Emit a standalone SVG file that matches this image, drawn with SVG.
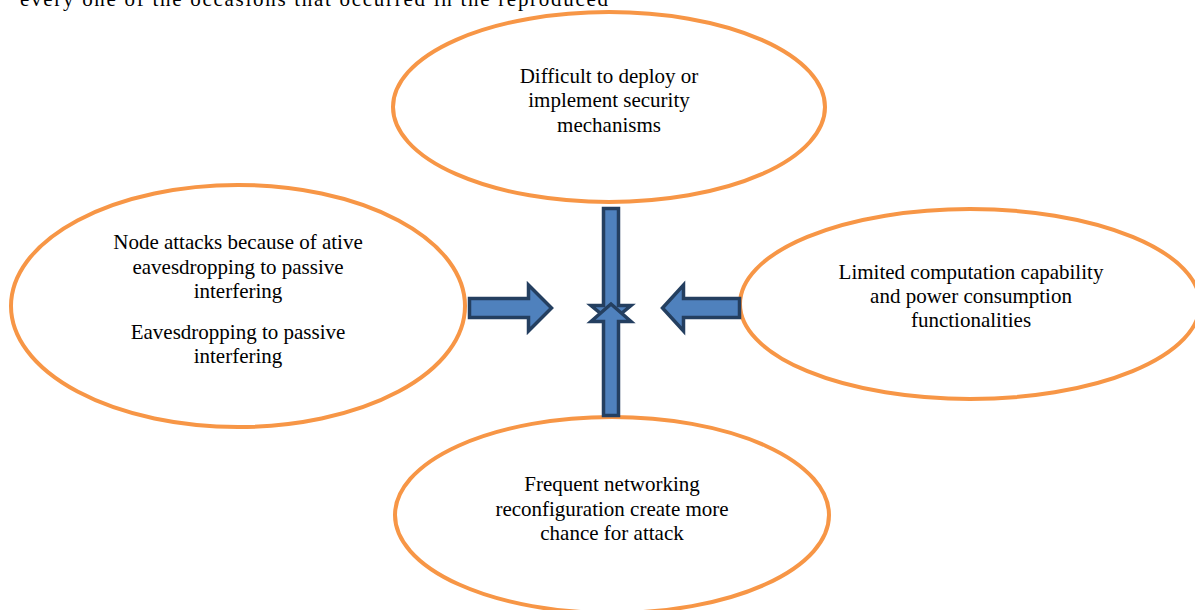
<svg xmlns="http://www.w3.org/2000/svg" width="1195" height="610" viewBox="0 0 1195 610">
<style>
.node ellipse{fill:#ffffff;stroke:#F79646;stroke-width:4}
text{font-family:'Liberation Serif',serif;font-size:21px;fill:#000}
.node text{text-anchor:middle}
.arrow{fill:#4F81BD;stroke:#243F60;stroke-width:3.5;stroke-linejoin:miter}
</style>
<rect width="1195" height="610" fill="#ffffff"/>
<text class="caption" x="20" y="6" textLength="588" lengthAdjust="spacing">every one of the occasions that occurred in the reproduced</text>
<g id="node-top" class="node">
<ellipse cx="609" cy="107" rx="216" ry="95"/>
<text x="609" y="83">Difficult to deploy or</text>
<text x="609" y="107">implement security</text>
<text x="609" y="132">mechanisms</text>
</g>
<g id="node-left" class="node">
<ellipse cx="238" cy="306" rx="227" ry="121"/>
<text x="238" y="249">Node attacks because of ative</text>
<text x="238" y="274">eavesdropping to passive</text>
<text x="238" y="298">interfering</text>
<text x="238" y="339">Eavesdropping to passive</text>
<text x="238" y="363">interfering</text>
</g>
<g id="node-right" class="node">
<ellipse cx="970" cy="304" rx="230" ry="95"/>
<text x="971" y="279">Limited computation capability</text>
<text x="971" y="303">and power consumption</text>
<text x="971" y="327">functionalities</text>
</g>
<g id="node-bottom" class="node">
<ellipse cx="612" cy="515" rx="217" ry="98"/>
<text x="612" y="491">Frequent networking</text>
<text x="612" y="516">reconfiguration create more</text>
<text x="612" y="540">chance for attack</text>
</g>
<g id="connectors">
<path class="arrow" d="M603.5,208.5 L618.5,208.5 L618.5,305.5 L631,305.5 L611,322 L591,305.5 L603.5,305.5 Z"/>
<path class="arrow" d="M603.5,415.5 L618.5,415.5 L618.5,321.5 L631,321.5 L611,304 L591,321.5 L603.5,321.5 Z"/>
<path class="arrow" d="M469.5,298.5 L528.5,298.5 L528.5,285 L551.5,308 L528.5,331 L528.5,317.5 L469.5,317.5 Z"/>
<path class="arrow" d="M739.5,298.5 L683.5,298.5 L683.5,285 L662.5,308 L683.5,331 L683.5,317.5 L739.5,317.5 Z"/>
</g>
</svg>
